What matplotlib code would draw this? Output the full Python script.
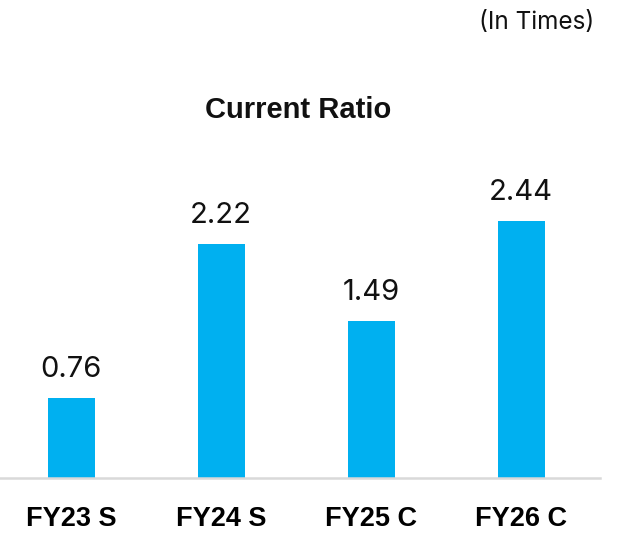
import matplotlib
matplotlib.use("Agg")
import matplotlib.pyplot as plt

categories = ["FY23 S", "FY24 S", "FY25 C", "FY26 C"]
values = [0.76, 2.22, 1.49, 2.44]
value_labels = ["0.76", "2.22", "1.49", "2.44"]
title = "Current Ratio"
unit_note = "(In Times)"

W, H = 623, 537
fig = plt.figure(figsize=(W / 100, H / 100), dpi=100)
ax = fig.add_axes([0, (H - 478) / H, 600 / W, (478 - 140) / H])

x = list(range(len(categories)))
bars = ax.bar(x, values, width=47 / 150, color="#00B0F0", zorder=2)
ax.set_xlim(-71 / 150, 3 + 79 / 150)
ax.set_ylim(0, 338 / 105.4)

for xi, v, lab in zip(x, values, value_labels):
    ax.annotate(lab, (xi, v), xytext=(0, 15), textcoords="offset points",
                ha="center", va="baseline", fontsize=21, family="Inter", color="#111111")

for s in ["top", "right", "left"]:
    ax.spines[s].set_visible(False)
ax.spines["bottom"].set_color("#d9d9d9")
ax.spines["bottom"].set_linewidth(1.8)
ax.set_yticks([])
ax.set_xticks(x)
ax.set_xticklabels(categories, fontsize=19.5, fontweight="bold", family="Liberation Sans")
ax.tick_params(axis="x", length=0, pad=20)

fig.text(298 / W, 1 - 110 / H, title, ha="center", va="center", fontsize=21,
         fontweight="bold", family="Liberation Sans", color="#111111")
fig.text(537 / W, 1 - 22 / H, unit_note, ha="center", va="center", fontsize=17.5,
         family="Inter", color="#111111")

fig.savefig("out.png", dpi=100)
